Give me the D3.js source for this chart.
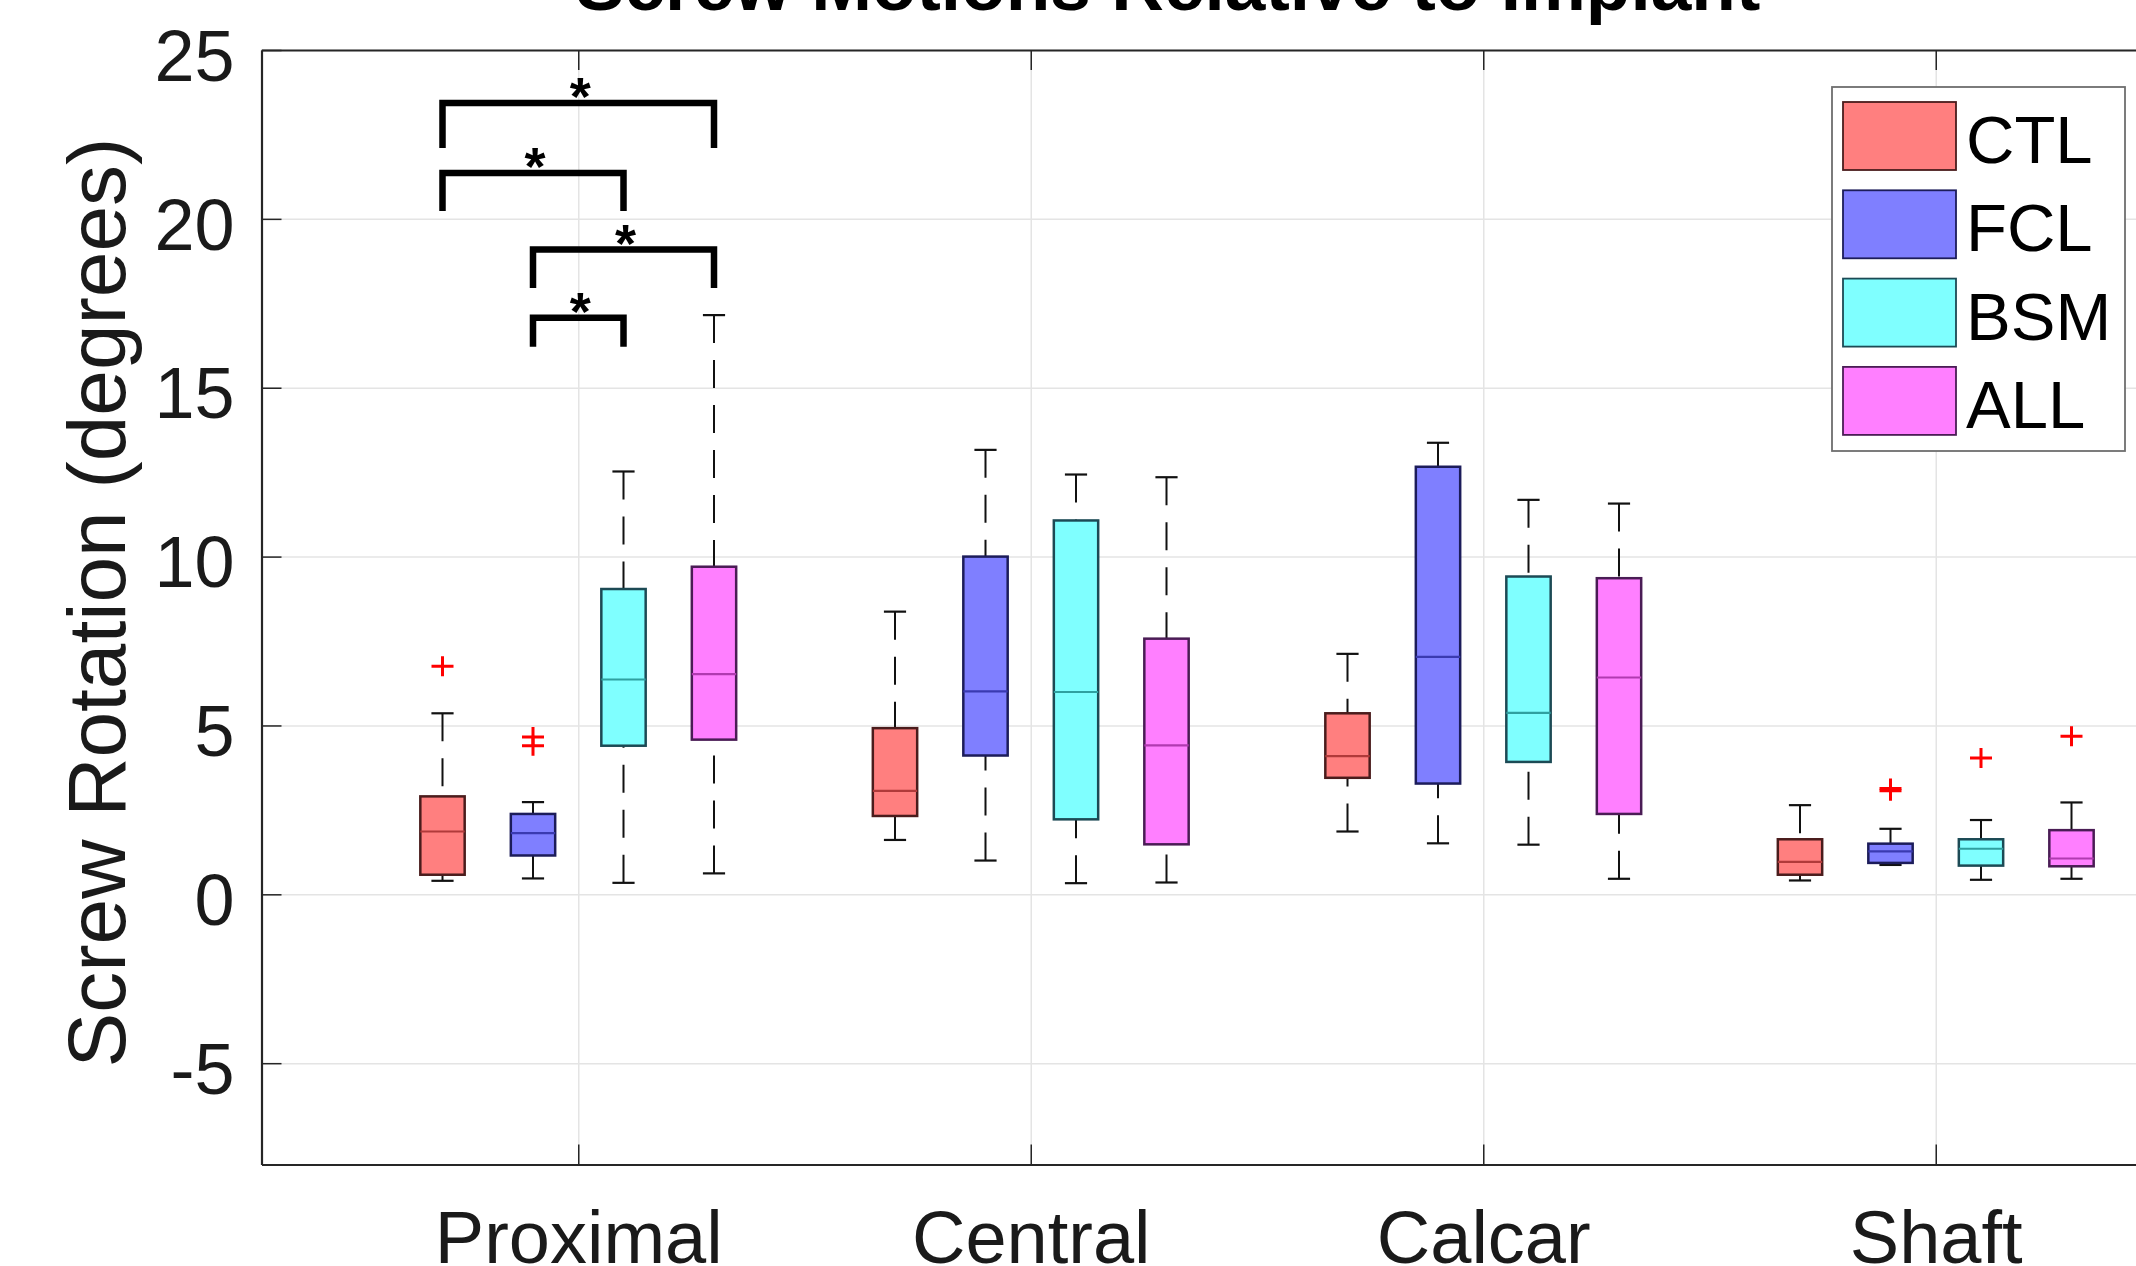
<!DOCTYPE html>
<html>
<head>
<meta charset="utf-8">
<script src="https://cdn.jsdelivr.net/npm/d3@7"></script>
<style>
  html, body { margin: 0; padding: 0; background: #fff; }
  svg { display: block; font-family: "Liberation Sans", Arial, Helvetica, sans-serif; }
</style>
</head>
<body>
<div class="js-chart"></div>
<script>
// categories and groups
var categories = ['Proximal', 'Central', 'Calcar', 'Shaft'];
var groups = ['CTL', 'FCL', 'BSM', 'ALL'];
var groupColors = ['#ff7f7f', '#7f7fff', '#7fffff', '#ff7fff'];
var edgeColors = ['#4a1c1c', '#1c1c5a', '#1c4a55', '#4a1c55'];
var medianColors = ['#b03a3a', '#3a3ab0', '#2fa0a0', '#b03ab0'];

// box stats, [category][group]
var whiskerLow = [
    [0.40, 0.47, 0.34, 0.62],
    [1.61, 1.00, 0.33, 0.35],
    [1.86, 1.51, 1.47, 0.46],
    [0.41, 0.87, 0.43, 0.46]
];
var q1 = [
    [0.58, 1.15, 4.40, 4.58],
    [2.32, 4.11, 2.22, 1.48],
    [3.45, 3.28, 3.92, 2.38],
    [0.58, 0.93, 0.85, 0.83]
];
var median = [
    [1.86, 1.81, 6.36, 6.52],
    [3.06, 6.01, 5.99, 4.41],
    [4.09, 7.03, 5.37, 6.42],
    [0.96, 1.27, 1.35, 1.06]
];
var q3 = [
    [2.90, 2.38, 9.04, 9.70],
    [4.92, 10.00, 11.07, 7.57],
    [5.36, 12.66, 9.41, 9.36],
    [1.63, 1.50, 1.63, 1.90]
];
var whiskerHigh = [
    [5.36, 2.73, 12.52, 17.15],
    [8.37, 13.16, 12.43, 12.35],
    [7.12, 13.37, 11.68, 11.57],
    [2.64, 1.94, 2.20, 2.72]
];
// [category, group, value]
var outliers = [
    [0, 0, 6.75],
    [0, 1, 4.66], [0, 1, 4.40],
    [3, 1, 3.07], [3, 1, 3.13],
    [3, 2, 4.04],
    [3, 3, 4.68]
];
// significance brackets (Proximal): [groupA, groupB, bar level, leg end]
var brackets = [
    [0, 3, 23.43, 22.10],
    [0, 2, 21.36, 20.23],
    [1, 3, 19.09, 17.95],
    [1, 2, 17.07, 16.21]
];
var yTicks = [-5, 0, 5, 10, 15, 20, 25];

var groupOffset = [-0.3, -0.1, 0.1, 0.3];
var boxW = 0.098;

var W = 2136, H = 1266;
var plotL = 261.5, plotR = 2252.5, plotT = 50, plotB = 1164.5;

var x = d3.scaleLinear().domain([0.3, 4.7]).range([plotL, plotR]);
var y = d3.scaleLinear().domain([-8, 25]).range([plotB, plotT]);

var svg = d3.select('.js-chart')
    .append('svg')
    .attr('width', W)
    .attr('height', H);

// grid
var gridX = svg.append('g')
    .attr('transform', 'translate(0,' + plotB + ')')
    .call(d3.axisBottom(x).tickValues([1, 2, 3, 4]).tickSize(-(plotB - plotT)).tickFormat(''));
var gridY = svg.append('g')
    .attr('transform', 'translate(' + plotL + ',0)')
    .call(d3.axisLeft(y).tickValues(yTicks).tickSize(-(plotR - plotL)).tickFormat(''));
[gridX, gridY].forEach(function(g) {
    g.select('.domain').remove();
    g.selectAll('line').attr('stroke', '#e4e4e4').attr('stroke-width', 1.5);
});

// flatten box data
var boxes = [];
categories.forEach(function(c, i) {
    groups.forEach(function(gname, j) {
        boxes.push({
            j: j,
            pos: i + 1 + groupOffset[j],
            lo: whiskerLow[i][j], q1: q1[i][j], med: median[i][j],
            q3: q3[i][j], hi: whiskerHigh[i][j]
        });
    });
});

var bx = svg.append('g').selectAll('g')
    .data(boxes)
    .enter()
    .append('g');

// whiskers, drawn from the cap toward the box
bx.append('line')
    .attr('x1', function(d) { return x(d.pos); })
    .attr('x2', function(d) { return x(d.pos); })
    .attr('y1', function(d) { return y(d.hi); })
    .attr('y2', function(d) { return y(d.q3); })
    .attr('stroke', '#111').attr('stroke-width', 2)
    .attr('stroke-dasharray', '28,17');
bx.append('line')
    .attr('x1', function(d) { return x(d.pos); })
    .attr('x2', function(d) { return x(d.pos); })
    .attr('y1', function(d) { return y(d.lo); })
    .attr('y2', function(d) { return y(d.q1); })
    .attr('stroke', '#111').attr('stroke-width', 2)
    .attr('stroke-dasharray', '28,17');

// caps
['hi', 'lo'].forEach(function(k) {
    bx.append('line')
        .attr('x1', function(d) { return x(d.pos - boxW / 4); })
        .attr('x2', function(d) { return x(d.pos + boxW / 4); })
        .attr('y1', function(d) { return y(d[k]); })
        .attr('y2', function(d) { return y(d[k]); })
        .attr('stroke', '#111').attr('stroke-width', 2.2);
});

// boxes
bx.append('rect')
    .attr('x', function(d) { return x(d.pos - boxW / 2); })
    .attr('width', x(boxW) - x(0))
    .attr('y', function(d) { return y(d.q3); })
    .attr('height', function(d) { return y(d.q1) - y(d.q3); })
    .attr('fill', function(d) { return groupColors[d.j]; })
    .attr('stroke', function(d) { return edgeColors[d.j]; })
    .attr('stroke-width', 2.5);

// medians
bx.append('line')
    .attr('x1', function(d) { return x(d.pos - boxW / 2); })
    .attr('x2', function(d) { return x(d.pos + boxW / 2); })
    .attr('y1', function(d) { return y(d.med); })
    .attr('y2', function(d) { return y(d.med); })
    .attr('stroke', function(d) { return medianColors[d.j]; })
    .attr('stroke-width', 2.2);

// outliers
svg.append('g').selectAll('path')
    .data(outliers)
    .enter()
    .append('path')
    .attr('transform', function(d) {
        return 'translate(' + x(d[0] + 1 + groupOffset[d[1]]) + ',' + y(d[2]) + ')';
    })
    .attr('d', 'M-11,0H11M0,-10V10')
    .attr('stroke', '#ff0000')
    .attr('stroke-width', 3)
    .attr('fill', 'none');

// significance brackets
var br = svg.append('g').selectAll('g')
    .data(brackets)
    .enter()
    .append('g');
br.append('path')
    .attr('d', function(d) {
        var xa = x(1 + groupOffset[d[0]]), xb = x(1 + groupOffset[d[1]]);
        return 'M' + xa + ',' + y(d[3]) + 'V' + y(d[2]) + 'H' + xb + 'V' + y(d[3]);
    })
    .attr('fill', 'none')
    .attr('stroke', '#000')
    .attr('stroke-width', 6.5)
    .attr('stroke-linejoin', 'miter');
br.append('text')
    .attr('x', function(d) { return (x(1 + groupOffset[d[0]]) + x(1 + groupOffset[d[1]])) / 2 + 2; })
    .attr('y', function(d) { return y(d[2]) + 12; })
    .attr('text-anchor', 'middle')
    .style('font-size', '54px')
    .style('font-weight', 'bold')
    .text('*');

// axes
var axL = svg.append('g')
    .attr('transform', 'translate(' + plotL + ',0)')
    .call(d3.axisLeft(y).tickValues(yTicks).tickSize(-20).tickSizeOuter(0).tickPadding(27)
        .tickFormat(function(d) { return String(d); }));
axL.selectAll('text').attr('dy', '0.42em').style('font-size', '72px');

var axB = svg.append('g')
    .attr('transform', 'translate(0,' + plotB + ')')
    .call(d3.axisBottom(x).tickValues([1, 2, 3, 4]).tickSize(-20).tickSizeOuter(0).tickPadding(46)
        .tickFormat(function(d) { return categories[d - 1]; }));
axB.selectAll('text').style('font-size', '74px');

var axT = svg.append('g')
    .attr('transform', 'translate(0,' + plotT + ')')
    .call(d3.axisTop(x).tickValues([1, 2, 3, 4]).tickSize(-20).tickSizeOuter(0).tickFormat(''));

var axR = svg.append('g')
    .attr('transform', 'translate(' + plotR + ',0)')
    .call(d3.axisRight(y).tickValues(yTicks).tickSize(-20).tickSizeOuter(0).tickFormat(''));

[axL, axB, axT, axR].forEach(function(g) {
    g.select('.domain').attr('stroke', '#262626').attr('stroke-width', 2.2);
    g.selectAll('.tick line').attr('stroke', '#262626').attr('stroke-width', 1.5);
    g.selectAll('text').attr('fill', '#1a1a1a').style('font-family', '"Liberation Sans", Arial, sans-serif');
});

// labels
svg.append('text')
    .attr('transform', 'translate(125,602.5) rotate(-90)')
    .attr('text-anchor', 'middle')
    .attr('fill', '#1a1a1a')
    .style('font-size', '82px')
    .text('Screw Rotation (degrees)');

svg.append('text')
    .attr('x', 1168)
    .attr('y', 10)
    .attr('text-anchor', 'middle')
    .attr('fill', '#000')
    .style('font-size', '73px')
    .style('font-weight', 'bold')
    .text('Screw Motions Relative to Implant');

// legend
var legend = svg.append('g');
legend.append('rect')
    .attr('x', 1832).attr('y', 87)
    .attr('width', 293).attr('height', 364)
    .attr('fill', '#fff')
    .attr('stroke', '#6e6e6e')
    .attr('stroke-width', 1.8);

var item = legend.selectAll('g')
    .data(groups)
    .enter()
    .append('g')
    .attr('transform', function(d, i) { return 'translate(1843,' + (102 + i * 88.3) + ')'; });
item.append('rect')
    .attr('width', 113).attr('height', 68)
    .attr('fill', function(d, i) { return groupColors[i]; })
    .attr('stroke', function(d, i) { return edgeColors[i]; })
    .attr('stroke-width', 1.8);
item.append('text')
    .attr('x', 123).attr('y', 61)
    .attr('fill', '#000')
    .style('font-size', '67px')
    .text(function(d) { return d; });
</script>
</body>
</html>
